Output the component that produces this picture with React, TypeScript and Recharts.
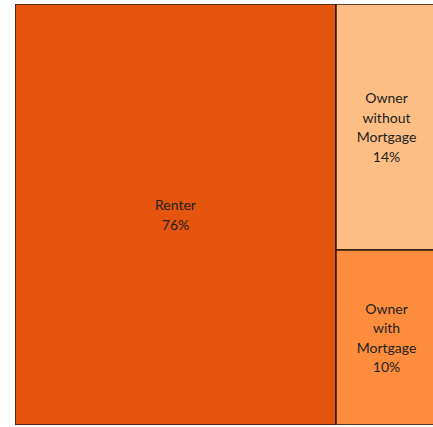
import React from "react";
import { Treemap } from "recharts";

const names = ["Renter", "Owner without Mortgage", "Owner with Mortgage"];
const shares = [76, 14, 10];
const colors: Record<string, string> = {
  Renter: "#E6550D",
  "Owner without Mortgage": "#FDBE85",
  "Owner with Mortgage": "#FD8D3C",
};

const data = names.map((name, i) => ({ name, value: shares[i] }));

const Tile = (props: any) => {
  const { x, y, width, height, name, value, depth } = props;
  if (depth !== 1) return null;
  const lines: string[] = width < 150 ? String(name).split(" ") : [String(name)];
  lines.push(`${value}%`);
  const lh = 19.5;
  const cx = x + width / 2;
  const top = y + height / 2 - ((lines.length - 1) * lh) / 2;
  return (
    <g>
      <rect
        x={x}
        y={y}
        width={width}
        height={height}
        fill={colors[name]}
        stroke="#2a1a10"
        strokeWidth={1.5}
      />
      {lines.map((l, i) => (
        <text
          key={i}
          x={cx}
          y={top + i * lh}
          textAnchor="middle"
          dominantBaseline="central"
          fontFamily="Lato, 'DejaVu Sans', sans-serif"
          fontSize={14}
          fill="#222"
        >
          {l}
        </text>
      ))}
    </g>
  );
};

export default function App() {
  return (
    <div
      style={{
        position: "fixed",
        left: 0,
        top: 0,
        width: 433,
        height: 427,
        overflow: "hidden",
        background: "#fff",
      }}
    >
      <div style={{ position: "absolute", left: 15, top: 4 }}>
        <Treemap
          width={422}
          height={421}
          data={data}
          dataKey="value"
          nameKey="name"
          isAnimationActive={false}
          content={<Tile />}
        />
      </div>
    </div>
  );
}
